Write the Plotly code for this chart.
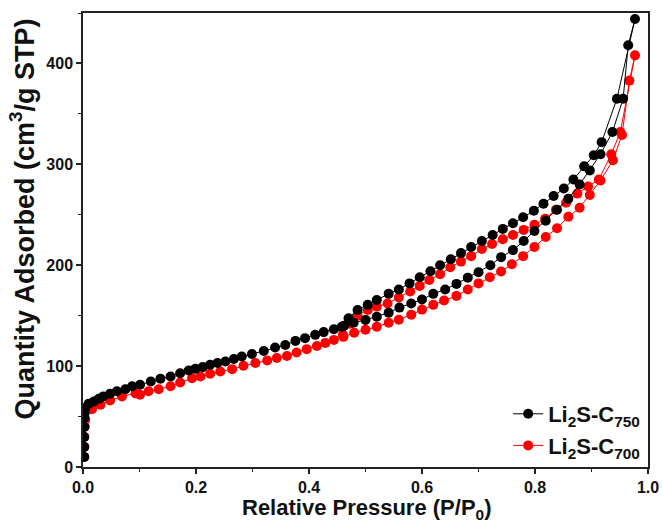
import plotly.graph_objects as go

# ---------------- data ----------------
# Li2S-C750 (black) : adsorption branch then desorption branch
c750_ads_x = [0.0023, 0.0023, 0.0023, 0.0023, 0.0025, 0.003, 0.004, 0.010, 0.019, 0.028,
              0.036, 0.048, 0.060, 0.075, 0.087, 0.101, 0.120, 0.137, 0.155, 0.172,
              0.187, 0.199, 0.212, 0.225, 0.238, 0.252, 0.267, 0.281, 0.299, 0.320,
              0.340, 0.358, 0.376, 0.393, 0.411, 0.426, 0.444, 0.458, 0.479, 0.500,
              0.520, 0.541, 0.560, 0.581, 0.600, 0.620, 0.641, 0.661, 0.681, 0.700,
              0.721, 0.740, 0.761, 0.780, 0.799, 0.819, 0.839, 0.859, 0.879, 0.897,
              0.916, 0.937, 0.956, 0.965, 0.977]
c750_ads_y = [9.9, 19.8, 29.7, 39.6, 48.5, 53.5, 58.4, 62.7, 65, 67.6,
              70, 72.6, 75, 77, 80, 81.5, 84.8, 87.4, 89.7, 93,
              95.6, 97.3, 99, 101.3, 103, 104.6, 107, 109.5, 112, 115,
              118.4, 121, 125, 127.7, 131, 133.7, 136.6, 139, 143, 145.8,
              149, 153, 158, 162, 166, 171.6, 176, 181.5, 187.7, 193,
              200, 208, 215, 224, 234, 244, 255, 266, 280, 294,
              310, 332, 365, 418, 444]
c750_des_x = [0.945, 0.918, 0.904, 0.887, 0.868, 0.851, 0.833, 0.815, 0.798, 0.779,
              0.761, 0.743, 0.725, 0.706, 0.687, 0.669, 0.651, 0.632, 0.615, 0.596,
              0.578, 0.559, 0.541, 0.520, 0.504, 0.486, 0.470, 0.462]
c750_des_y = [365, 322, 309, 298, 285, 276, 268.6, 261, 254, 247.5,
              241.6, 236, 230, 224, 218, 212, 206, 200, 194, 188,
              182, 176, 171.6, 165.6, 160.7, 155.7, 147.5, 140]

# Li2S-C700 (red)
c700_ads_x = [0.002, 0.002, 0.002, 0.003, 0.004, 0.016, 0.031, 0.048, 0.069, 0.093,
              0.101, 0.116, 0.134, 0.155, 0.172, 0.193, 0.208, 0.225, 0.243, 0.264,
              0.284, 0.305, 0.326, 0.343, 0.361, 0.378, 0.396, 0.414, 0.429, 0.444,
              0.461, 0.480, 0.500, 0.520, 0.541, 0.559, 0.581, 0.600, 0.620, 0.639,
              0.661, 0.681, 0.700, 0.720, 0.740, 0.759, 0.779, 0.799, 0.819, 0.839,
              0.859, 0.879, 0.897, 0.916, 0.938, 0.954, 0.967, 0.977]
c700_ads_y = [10, 20, 30, 40, 47, 57.4, 61.7, 66, 70, 73,
              71.6, 75, 77, 80, 83.8, 88, 89.7, 92.4, 94.7, 97,
              100.3, 103, 105.5, 108, 110, 113.5, 116.8, 120, 123, 126,
              129, 133, 136, 139, 143, 146, 151, 156, 160.7, 165,
              169.6, 176, 182, 188, 193.7, 201, 209, 218, 228, 236.6,
              248, 257, 269.6, 284, 304, 329, 383, 408]
c700_des_x = [0.951, 0.935, 0.913, 0.894, 0.875, 0.855, 0.837, 0.818, 0.799, 0.780,
              0.761, 0.743, 0.724, 0.706, 0.687, 0.669, 0.650, 0.632, 0.613, 0.596,
              0.579, 0.559, 0.539, 0.520, 0.504, 0.486, 0.472, 0.460]
c700_des_y = [332, 310, 285, 278, 271, 262, 255, 246, 240, 235,
              230, 225.7, 221, 216, 209, 203.6, 198, 191, 185.4, 179.5,
              174, 168, 162, 159, 155.7, 150, 142, 131]

series_names = ["Li<sub>2</sub>S-C<sub>750</sub>", "Li<sub>2</sub>S-C<sub>700</sub>"]
series_colors = ["#000000", "#ff0000"]

x_title = "Relative Pressure (P/P<sub>0</sub>)"
y_title = "Quantity Adsorbed (cm<sup>3</sup>/g STP)"

# ---------------- figure ----------------
FONT = "Liberation Sans, Arial, sans-serif"

fig = go.Figure()
# red drawn first so black sits on top; legend keeps black first via legendrank
fig.add_trace(go.Scatter(
    x=c700_ads_x + c700_des_x, y=c700_ads_y + c700_des_y,
    mode="lines+markers", name=series_names[1], legendrank=2,
    line=dict(color=series_colors[1], width=1),
    marker=dict(symbol="circle", size=10, color=series_colors[1]),
))
fig.add_trace(go.Scatter(
    x=c750_ads_x + c750_des_x, y=c750_ads_y + c750_des_y,
    mode="lines+markers", name=series_names[0], legendrank=1,
    line=dict(color=series_colors[0], width=1),
    marker=dict(symbol="circle", size=10, color=series_colors[0]),
))

axis_common = dict(
    showline=True, linecolor="#222222", linewidth=1.5, mirror=True,
    ticks="outside", ticklen=5, tickwidth=1.5, tickcolor="#222222",
    showgrid=False, zeroline=False, automargin=False,
    minor=dict(ticks="outside", ticklen=3, tickwidth=1.2, tickcolor="#222222"),
)

fig.update_layout(
    width=662, height=525,
    margin=dict(l=83, r=14, t=13, b=58),
    paper_bgcolor="white", plot_bgcolor="white",
    font=dict(family=FONT, color="#111111"),
    showlegend=True,
    legend=dict(
        x=0.995, y=0.0, xanchor="right", yanchor="bottom",
        bgcolor="rgba(0,0,0,0)",
        font=dict(family=FONT, size=22, weight="bold", color="#111111"),
        tracegroupgap=6,
    ),
    annotations=[
        dict(
            text=y_title, textangle=-90, showarrow=False,
            xref="paper", yref="paper", x=0, y=0.545,
            xanchor="center", yanchor="middle", xshift=-61,
            font=dict(family=FONT, size=27, weight="bold", color="#111111"),
        ),
        dict(
            text=x_title, showarrow=False,
            xref="paper", yref="paper", x=0.502, y=0,
            xanchor="center", yanchor="top", yshift=-26,
            font=dict(family=FONT, size=22, weight="bold", color="#111111"),
        ),
    ],
)
fig.update_xaxes(
    range=[0, 1.0], tickvals=[0, 0.2, 0.4, 0.6, 0.8, 1.0],
    ticktext=["0.0", "0.2", "0.4", "0.6", "0.8", "1.0"],
    tickfont=dict(family=FONT, size=16, weight="bold", color="#111111"),
    **axis_common,
)
fig.update_xaxes(minor_dtick=0.1)
fig.update_yaxes(
    range=[0, 450], tickvals=[0, 100, 200, 300, 400],
    tickfont=dict(family=FONT, size=16, weight="bold", color="#111111"),
    **axis_common,
)
fig.update_yaxes(minor_dtick=50)

fig.write_html("out.html")
